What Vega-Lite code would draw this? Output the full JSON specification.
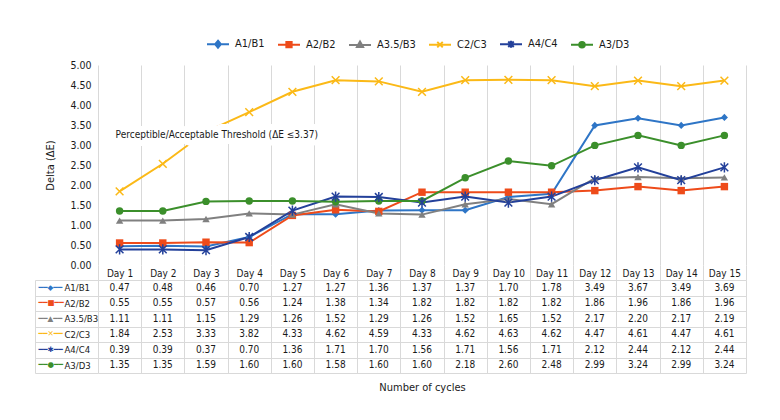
{
  "$schema": "https://vega.github.io/schema/vega-lite/v6.json",
  "padding": {"left": 34, "top": 32, "right": 35, "bottom": 25},
  "datasets": {
    "series": [
      {"day": "Day 1", "series": "A1/B1", "value": 0.47}, {"day": "Day 2", "series": "A1/B1", "value": 0.48}, {"day": "Day 3", "series": "A1/B1", "value": 0.46}, {"day": "Day 4", "series": "A1/B1", "value": 0.70}, {"day": "Day 5", "series": "A1/B1", "value": 1.27}, {"day": "Day 6", "series": "A1/B1", "value": 1.27}, {"day": "Day 7", "series": "A1/B1", "value": 1.36}, {"day": "Day 8", "series": "A1/B1", "value": 1.37}, {"day": "Day 9", "series": "A1/B1", "value": 1.37}, {"day": "Day 10", "series": "A1/B1", "value": 1.70}, {"day": "Day 11", "series": "A1/B1", "value": 1.78}, {"day": "Day 12", "series": "A1/B1", "value": 3.49}, {"day": "Day 13", "series": "A1/B1", "value": 3.67}, {"day": "Day 14", "series": "A1/B1", "value": 3.49}, {"day": "Day 15", "series": "A1/B1", "value": 3.69},
      {"day": "Day 1", "series": "A2/B2", "value": 0.55}, {"day": "Day 2", "series": "A2/B2", "value": 0.55}, {"day": "Day 3", "series": "A2/B2", "value": 0.57}, {"day": "Day 4", "series": "A2/B2", "value": 0.56}, {"day": "Day 5", "series": "A2/B2", "value": 1.24}, {"day": "Day 6", "series": "A2/B2", "value": 1.38}, {"day": "Day 7", "series": "A2/B2", "value": 1.34}, {"day": "Day 8", "series": "A2/B2", "value": 1.82}, {"day": "Day 9", "series": "A2/B2", "value": 1.82}, {"day": "Day 10", "series": "A2/B2", "value": 1.82}, {"day": "Day 11", "series": "A2/B2", "value": 1.82}, {"day": "Day 12", "series": "A2/B2", "value": 1.86}, {"day": "Day 13", "series": "A2/B2", "value": 1.96}, {"day": "Day 14", "series": "A2/B2", "value": 1.86}, {"day": "Day 15", "series": "A2/B2", "value": 1.96},
      {"day": "Day 1", "series": "A3.5/B3", "value": 1.11}, {"day": "Day 2", "series": "A3.5/B3", "value": 1.11}, {"day": "Day 3", "series": "A3.5/B3", "value": 1.15}, {"day": "Day 4", "series": "A3.5/B3", "value": 1.29}, {"day": "Day 5", "series": "A3.5/B3", "value": 1.26}, {"day": "Day 6", "series": "A3.5/B3", "value": 1.52}, {"day": "Day 7", "series": "A3.5/B3", "value": 1.29}, {"day": "Day 8", "series": "A3.5/B3", "value": 1.26}, {"day": "Day 9", "series": "A3.5/B3", "value": 1.52}, {"day": "Day 10", "series": "A3.5/B3", "value": 1.65}, {"day": "Day 11", "series": "A3.5/B3", "value": 1.52}, {"day": "Day 12", "series": "A3.5/B3", "value": 2.17}, {"day": "Day 13", "series": "A3.5/B3", "value": 2.20}, {"day": "Day 14", "series": "A3.5/B3", "value": 2.17}, {"day": "Day 15", "series": "A3.5/B3", "value": 2.19},
      {"day": "Day 1", "series": "C2/C3", "value": 1.84}, {"day": "Day 2", "series": "C2/C3", "value": 2.53}, {"day": "Day 3", "series": "C2/C3", "value": 3.33}, {"day": "Day 4", "series": "C2/C3", "value": 3.82}, {"day": "Day 5", "series": "C2/C3", "value": 4.33}, {"day": "Day 6", "series": "C2/C3", "value": 4.62}, {"day": "Day 7", "series": "C2/C3", "value": 4.59}, {"day": "Day 8", "series": "C2/C3", "value": 4.33}, {"day": "Day 9", "series": "C2/C3", "value": 4.62}, {"day": "Day 10", "series": "C2/C3", "value": 4.63}, {"day": "Day 11", "series": "C2/C3", "value": 4.62}, {"day": "Day 12", "series": "C2/C3", "value": 4.47}, {"day": "Day 13", "series": "C2/C3", "value": 4.61}, {"day": "Day 14", "series": "C2/C3", "value": 4.47}, {"day": "Day 15", "series": "C2/C3", "value": 4.61},
      {"day": "Day 1", "series": "A4/C4", "value": 0.39}, {"day": "Day 2", "series": "A4/C4", "value": 0.39}, {"day": "Day 3", "series": "A4/C4", "value": 0.37}, {"day": "Day 4", "series": "A4/C4", "value": 0.70}, {"day": "Day 5", "series": "A4/C4", "value": 1.36}, {"day": "Day 6", "series": "A4/C4", "value": 1.71}, {"day": "Day 7", "series": "A4/C4", "value": 1.70}, {"day": "Day 8", "series": "A4/C4", "value": 1.56}, {"day": "Day 9", "series": "A4/C4", "value": 1.71}, {"day": "Day 10", "series": "A4/C4", "value": 1.56}, {"day": "Day 11", "series": "A4/C4", "value": 1.71}, {"day": "Day 12", "series": "A4/C4", "value": 2.12}, {"day": "Day 13", "series": "A4/C4", "value": 2.44}, {"day": "Day 14", "series": "A4/C4", "value": 2.12}, {"day": "Day 15", "series": "A4/C4", "value": 2.44},
      {"day": "Day 1", "series": "A3/D3", "value": 1.35}, {"day": "Day 2", "series": "A3/D3", "value": 1.35}, {"day": "Day 3", "series": "A3/D3", "value": 1.59}, {"day": "Day 4", "series": "A3/D3", "value": 1.60}, {"day": "Day 5", "series": "A3/D3", "value": 1.60}, {"day": "Day 6", "series": "A3/D3", "value": 1.58}, {"day": "Day 7", "series": "A3/D3", "value": 1.60}, {"day": "Day 8", "series": "A3/D3", "value": 1.60}, {"day": "Day 9", "series": "A3/D3", "value": 2.18}, {"day": "Day 10", "series": "A3/D3", "value": 2.60}, {"day": "Day 11", "series": "A3/D3", "value": 2.48}, {"day": "Day 12", "series": "A3/D3", "value": 2.99}, {"day": "Day 13", "series": "A3/D3", "value": 3.24}, {"day": "Day 14", "series": "A3/D3", "value": 2.99}, {"day": "Day 15", "series": "A3/D3", "value": 3.24}
    ],
    "note": [{"day": "Day 1", "value": 3.25, "label": "Perceptible/Acceptable Threshold (ΔE ≤3.37)"}]
  },
  "config": {
    "font": "DejaVu Sans Condensed, sans-serif",
    "view": {"stroke": null},
    "axis": {"labelFont": "DejaVu Sans Condensed, sans-serif", "titleFont": "DejaVu Sans Condensed, sans-serif", "labelColor": "#1a1a1a", "titleColor": "#1a1a1a", "titleFontWeight": "normal", "labelFontSize": 10, "titleFontSize": 11, "gridColor": "#d9d9d9", "tickColor": "#d9d9d9", "domainColor": "#d9d9d9", "labelOverlap": false},
    "legend": {"labelFont": "DejaVu Sans Condensed, sans-serif", "labelFontSize": 11, "labelColor": "#1a1a1a"},
    "text": {"font": "DejaVu Sans Condensed, sans-serif", "fontSize": 10, "color": "#1a1a1a"}
  },
  "bounds": "flush",
  "spacing": 15,
  "vconcat": [
    {
      "width": 648,
      "height": 200,
      "encoding": {
        "x": {"field": "day", "type": "nominal", "scale": {"domain": ["Day 1", "Day 2", "Day 3", "Day 4", "Day 5", "Day 6", "Day 7", "Day 8", "Day 9", "Day 10", "Day 11", "Day 12", "Day 13", "Day 14", "Day 15"], "paddingInner": 0, "paddingOuter": 0}, "axis": {"title": null, "grid": true, "tickBand": "extent", "ticks": true, "tickSize": 15, "domain": false, "labelPadding": -12, "labelAngle": 0}},
        "y": {"field": "value", "type": "quantitative", "scale": {"domain": [0, 5], "nice": false}, "axis": {"title": "Delta (ΔE)", "values": [0, 0.5, 1, 1.5, 2, 2.5, 3, 3.5, 4, 4.5, 5], "format": ".2f", "grid": false, "ticks": false, "domain": false, "labelPadding": 7, "titlePadding": 14, "labelOverlap": false, "labelFontSize": 10.5}}
      },
      "layer": [
        {
          "data": {"name": "series"},
          "mark": {"type": "line", "strokeWidth": 2},
          "encoding": {
            "color": {"field": "series", "type": "nominal", "scale": {"domain": ["A1/B1", "A2/B2", "A3.5/B3", "C2/C3", "A4/C4", "A3/D3"], "range": ["#2E75C6", "#EE4B1A", "#808080", "#FBB917", "#23409A", "#3B8F2B"]},
              "legend": {"orient": "none", "legendX": 108, "legendY": -33, "direction": "horizontal", "title": null, "symbolSize": 484, "symbolStrokeWidth": 2, "labelOffset": 5, "columnPadding": 9,
                "encode": {"symbols": {"update": {
                  "shape": {"signal": "datum.value === 'A1/B1' ? 'M-1,0L1,0M0,-0.32L0.26,0L0,0.32L-0.26,0Z' : datum.value === 'A2/B2' ? 'M-1,0L1,0M-0.24,-0.24L0.24,-0.24L0.24,0.24L-0.24,0.24Z' : datum.value === 'A3.5/B3' ? 'M-1,0L1,0M0,-0.3L0.28,0.2L-0.28,0.2Z' : datum.value === 'C2/C3' ? 'M-1,0L1,0M-0.25,-0.25L0.25,0.25M-0.25,0.25L0.25,-0.25' : datum.value === 'A4/C4' ? 'M-1,0L1,0M-0.25,-0.25L0.25,0.25M-0.25,0.25L0.25,-0.25M0,-0.32L0,0.32' : 'M-1,0L1,0M0.25,0A0.25,0.25 0 1,1 -0.25,0A0.25,0.25 0 1,1 0.25,0Z'"},
                  "stroke": {"signal": "datum.value === 'A1/B1' ? '#2E75C6' : datum.value === 'A2/B2' ? '#EE4B1A' : datum.value === 'A3.5/B3' ? '#808080' : datum.value === 'C2/C3' ? '#FBB917' : datum.value === 'A4/C4' ? '#23409A' : '#3B8F2B'"},
                  "fill": {"signal": "datum.value === 'A1/B1' ? '#2E75C6' : datum.value === 'A2/B2' ? '#EE4B1A' : datum.value === 'A3.5/B3' ? '#808080' : datum.value === 'C2/C3' ? 'transparent' : datum.value === 'A4/C4' ? 'transparent' : '#3B8F2B'"},
                  "strokeWidth": {"value": 2},
                  "opacity": {"value": 1}
                }}}
              }
            }
          }
        },
        {
          "data": {"name": "series"},
          "transform": [{"filter": {"field": "series", "equal": "A1/B1"}}],
          "mark": {"type": "point", "filled": true, "size": 50, "opacity": 1, "shape": "diamond"},
          "encoding": {"color": {"field": "series", "type": "nominal"}}
        },
        {
          "data": {"name": "series"},
          "transform": [{"filter": {"field": "series", "equal": "A2/B2"}}],
          "mark": {"type": "point", "filled": true, "size": 55, "opacity": 1, "shape": "square"},
          "encoding": {"color": {"field": "series", "type": "nominal"}}
        },
        {
          "data": {"name": "series"},
          "transform": [{"filter": {"field": "series", "equal": "A3.5/B3"}}],
          "mark": {"type": "point", "filled": true, "size": 55, "opacity": 1, "shape": "triangle-up"},
          "encoding": {"color": {"field": "series", "type": "nominal"}}
        },
        {
          "data": {"name": "series"},
          "transform": [{"filter": {"field": "series", "equal": "A3/D3"}}],
          "mark": {"type": "point", "filled": true, "size": 55, "opacity": 1, "shape": "circle"},
          "encoding": {"color": {"field": "series", "type": "nominal"}}
        },
        {
          "data": {"name": "series"},
          "transform": [{"filter": {"field": "series", "equal": "C2/C3"}}],
          "mark": {"type": "point", "filled": false, "size": 60, "strokeWidth": 1.5, "opacity": 1, "shape": "M-1,-1L1,1M-1,1L1,-1"},
          "encoding": {"color": {"field": "series", "type": "nominal"}}
        },
        {
          "data": {"name": "series"},
          "transform": [{"filter": {"field": "series", "equal": "A4/C4"}}],
          "mark": {"type": "point", "filled": false, "size": 60, "strokeWidth": 1.5, "opacity": 1, "shape": "M-1,-1L1,1M-1,1L1,-1M0,-1.3L0,1.3"},
          "encoding": {"color": {"field": "series", "type": "nominal"}}
        },
        {
          "data": {"name": "note"},
          "mark": {"type": "text", "align": "left", "baseline": "middle", "dx": -4, "fontSize": 10, "fill": "white", "stroke": "white", "strokeWidth": 12, "strokeJoin": "round"},
          "encoding": {"text": {"field": "label"}}
        },
        {
          "data": {"name": "note"},
          "mark": {"type": "text", "align": "left", "baseline": "middle", "dx": -4, "fontSize": 10, "color": "#1a1a1a"},
          "encoding": {"text": {"field": "label"}}
        }
      ]
    },
    {
      "width": 648,
      "height": 93,
      "data": {"name": "series"},
      "layer": [
        {
          "mark": {"type": "text", "fontSize": 10},
          "encoding": {
            "x": {"field": "day", "type": "nominal", "scale": {"domain": ["Day 1", "Day 2", "Day 3", "Day 4", "Day 5", "Day 6", "Day 7", "Day 8", "Day 9", "Day 10", "Day 11", "Day 12", "Day 13", "Day 14", "Day 15"], "paddingInner": 0, "paddingOuter": 0}, "axis": {"title": "Number of cycles", "grid": true, "tickBand": "extent", "labels": false, "ticks": false, "domain": false, "titlePadding": 8}},
            "y": {"field": "series", "type": "nominal", "scale": {"domain": ["A1/B1", "A2/B2", "A3.5/B3", "C2/C3", "A4/C4", "A3/D3"], "paddingInner": 0, "paddingOuter": 0}, "axis": {"title": null, "grid": true, "tickBand": "extent", "ticks": true, "tickSize": 63, "domain": false, "labelAlign": "left", "labelPadding": -29, "labelFontSize": 9.5}},
            "text": {"field": "value", "type": "quantitative", "format": ".2f"}
          }
        },
        {
          "mark": {"type": "text", "opacity": 0},
          "encoding": {
            "y": {"field": "series", "type": "nominal", "axis": {"title": null, "orient": "left", "offset": 63, "grid": false, "ticks": false, "domain": true, "labelAlign": "left", "labelPadding": -3, "labelFont": "DejaVu Sans", "labelFontSize": 7.5,
              "labelExpr": "datum.value === 'A1/B1' ? '━━◆━━' : datum.value === 'A2/B2' ? '━━■━━' : datum.value === 'A3.5/B3' ? '━━▲━━' : datum.value === 'C2/C3' ? '━━✕━━' : datum.value === 'A4/C4' ? '━━✱━━' : '━━●━━'",
              "labelColor": {"expr": "datum.value === 'A1/B1' ? '#2E75C6' : datum.value === 'A2/B2' ? '#EE4B1A' : datum.value === 'A3.5/B3' ? '#808080' : datum.value === 'C2/C3' ? '#FBB917' : datum.value === 'A4/C4' ? '#23409A' : '#3B8F2B'"}
            }}
          }
        }
      ],
      "resolve": {"axis": {"y": "independent"}}
    }
  ]
}
